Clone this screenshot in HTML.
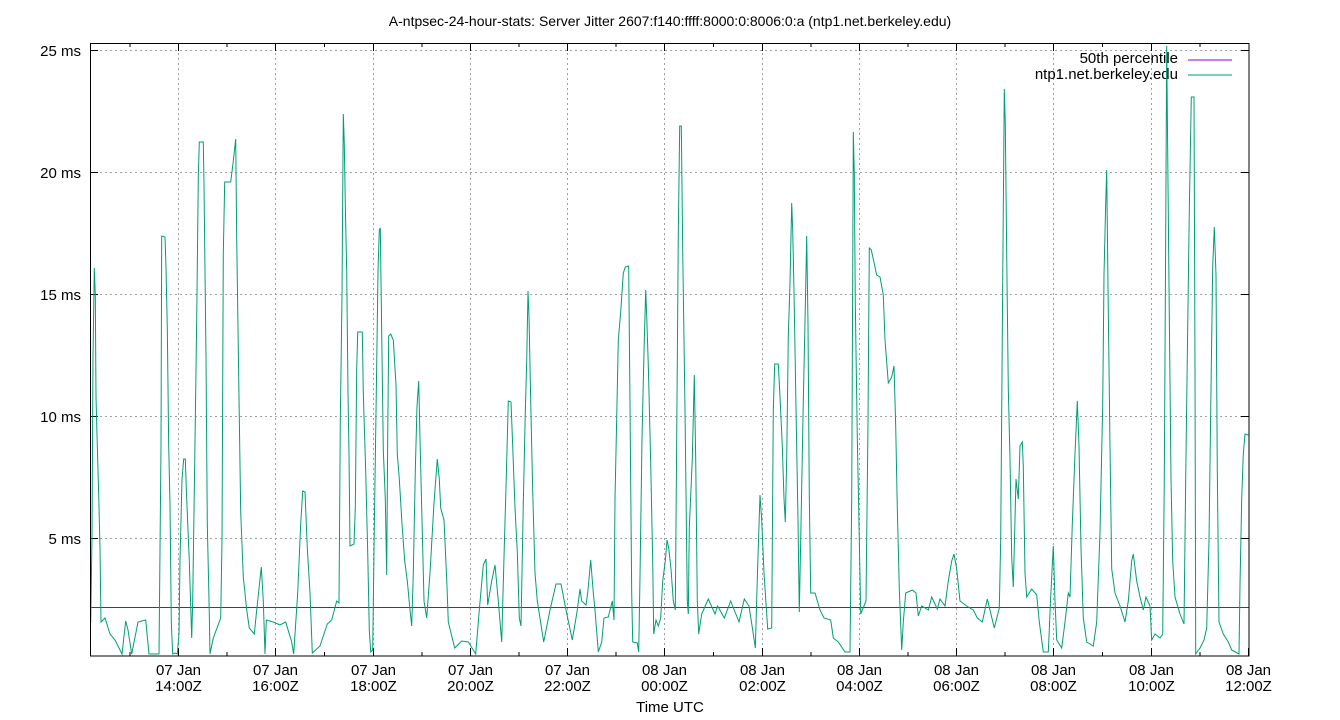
<!DOCTYPE html>
<html><head><meta charset="utf-8"><style>
html,body{margin:0;padding:0;background:#fff;}
svg{display:block;font-family:"Liberation Sans",sans-serif;}
</style></head><body>
<svg width="1340" height="720" viewBox="0 0 1340 720" xmlns="http://www.w3.org/2000/svg">
<rect width="1340" height="720" fill="#fff"/>
<text x="670" y="26" font-size="14" text-anchor="middle" fill="#000">A-ntpsec-24-hour-stats: Server Jitter 2607:f140:ffff:8000:0:8006:0:a (ntp1.net.berkeley.edu)</text>
<g stroke="#a0a0a0" stroke-width="1" stroke-dasharray="2,3" fill="none">
<line x1="90" y1="50.5" x2="1249" y2="50.5"/>
<line x1="90" y1="172.5" x2="1249" y2="172.5"/>
<line x1="90" y1="294.5" x2="1249" y2="294.5"/>
<line x1="90" y1="416.5" x2="1249" y2="416.5"/>
<line x1="90" y1="538.5" x2="1249" y2="538.5"/>
<line x1="178.5" y1="43" x2="178.5" y2="656"/>
<line x1="275.5" y1="43" x2="275.5" y2="656"/>
<line x1="373.5" y1="43" x2="373.5" y2="656"/>
<line x1="470.5" y1="43" x2="470.5" y2="656"/>
<line x1="567.5" y1="43" x2="567.5" y2="656"/>
<line x1="664.5" y1="43" x2="664.5" y2="656"/>
<line x1="762.5" y1="43" x2="762.5" y2="656"/>
<line x1="859.5" y1="43" x2="859.5" y2="656"/>
<line x1="956.5" y1="43" x2="956.5" y2="656"/>
<line x1="1053.5" y1="43" x2="1053.5" y2="656"/>
<line x1="1151.5" y1="43" x2="1151.5" y2="656"/>
</g>
<g stroke="#000" stroke-width="1">
<line x1="90" y1="50.5" x2="98" y2="50.5"/><line x1="1241" y1="50.5" x2="1249" y2="50.5"/>
<line x1="90" y1="172.5" x2="98" y2="172.5"/><line x1="1241" y1="172.5" x2="1249" y2="172.5"/>
<line x1="90" y1="294.5" x2="98" y2="294.5"/><line x1="1241" y1="294.5" x2="1249" y2="294.5"/>
<line x1="90" y1="416.5" x2="98" y2="416.5"/><line x1="1241" y1="416.5" x2="1249" y2="416.5"/>
<line x1="90" y1="538.5" x2="98" y2="538.5"/><line x1="1241" y1="538.5" x2="1249" y2="538.5"/>
</g>
<g stroke="#000" stroke-width="1" id="xt">
<path d="M178.5 656v-8M275.5 656v-8M373.5 656v-8M470.5 656v-8M567.5 656v-8M664.5 656v-8M762.5 656v-8M859.5 656v-8M956.5 656v-8M1053.5 656v-8M1151.5 656v-8M1248.5 656v-8
M130 656v-4M227 656v-4M324.5 656v-4M422 656v-4M519 656v-4M616 656v-4M713.5 656v-4M811 656v-4M908 656v-4M1005 656v-4M1102.5 656v-4M1200 656v-4
M178.5 43v8M275.5 43v8M373.5 43v8M470.5 43v8M567.5 43v8M664.5 43v8M762.5 43v8M859.5 43v8M956.5 43v8M1053.5 43v8M1151.5 43v8
M130 43v4M227 43v4M324.5 43v4M422 43v4M519 43v4M616 43v4M713.5 43v4M811 43v4M908 43v4M1005 43v4M1102.5 43v4M1200 43v4"/>
</g>
<g font-size="15" fill="#000" text-anchor="end">
<text x="81" y="56">25 ms</text><text x="81" y="178">20 ms</text><text x="81" y="300">15 ms</text><text x="81" y="422">10 ms</text><text x="81" y="544">5 ms</text>
</g>
<g font-size="15" fill="#000" text-anchor="middle">
<text x="178.5" y="675">07 Jan</text><text x="178.5" y="691">14:00Z</text>
<text x="275.5" y="675">07 Jan</text><text x="275.5" y="691">16:00Z</text>
<text x="373.5" y="675">07 Jan</text><text x="373.5" y="691">18:00Z</text>
<text x="470.5" y="675">07 Jan</text><text x="470.5" y="691">20:00Z</text>
<text x="567.5" y="675">07 Jan</text><text x="567.5" y="691">22:00Z</text>
<text x="664.5" y="675">08 Jan</text><text x="664.5" y="691">00:00Z</text>
<text x="762.5" y="675">08 Jan</text><text x="762.5" y="691">02:00Z</text>
<text x="859.5" y="675">08 Jan</text><text x="859.5" y="691">04:00Z</text>
<text x="956.5" y="675">08 Jan</text><text x="956.5" y="691">06:00Z</text>
<text x="1053.5" y="675">08 Jan</text><text x="1053.5" y="691">08:00Z</text>
<text x="1151.5" y="675">08 Jan</text><text x="1151.5" y="691">10:00Z</text>
<text x="1248.5" y="675">08 Jan</text><text x="1248.5" y="691">12:00Z</text>
<text x="670" y="712">Time UTC</text>
</g>
<g font-size="15" fill="#000" text-anchor="end">
<text x="1178" y="63">50th percentile</text>
<text x="1178" y="79">ntp1.net.berkeley.edu</text>
</g>
<line x1="1188" y1="60" x2="1232" y2="60" stroke="#9400d3" stroke-width="1"/>
<line x1="1188" y1="75" x2="1232" y2="75" stroke="#009e73" stroke-width="1"/>
<line x1="90" y1="607.5" x2="1249" y2="607.5" stroke="#9400d3" stroke-width="1"/>
<polyline fill="none" stroke="#009e73" stroke-width="1" stroke-linejoin="miter" points="
90.7,623 92,536 93,357 94.3,268 95.3,295 96,397 97.3,446 98.7,495 100,548 101,622 105,618 110,634 115,640 122,654 125.7,621 128,630 131.7,654 138,622 145.7,620 149,654 159,654 161,446 161.7,236 165,237 166,267 167.3,328 168.7,446 170,505 171.3,622 172.7,654 175,653 177.3,654 179,634 180,561 182,479 183.7,459 185.3,459 186.7,499 189.3,561 191.7,638 192.7,601 194.7,463 196.7,320 198.3,177 199.3,142 203.3,142 204,185 206,357 207.3,524 209.3,614 210,654 213.3,638 220.7,618 222,540 223.3,254 224.7,182 230.7,182 233.3,161 235.7,139 236.7,238 238.7,377 240.7,512 243.3,577 246.7,610 249.3,628 254.3,634 256.7,610 261.3,567 263.3,601 265,654 266.3,620 273.3,622 280,625 285.7,622 291.7,642 293.7,654 297.7,593 300.7,524 302.7,491 305,492 307.3,548 310,593 312.3,653 320,646 323.3,636 327.3,624 331.7,620 336.7,601 339,603 340.3,422 342,295 343.3,114 344.3,144 345.3,205 346.7,271 348,393 349,454 350,546 354,544 355.3,508 356.7,369 357.7,332 362.3,332 363.3,393 365.7,471 367.7,552 369.3,630 370.7,652 372.7,650 374.3,528 376.7,365 378,271 379.3,230 380.3,228 381.3,303 383.3,450 385.3,499 386.7,575 387.7,438 388.7,336 390.7,334 393.3,340 396,385 397.3,454 399.3,479 402,524 404.7,561 407.3,581 410,610 411.7,626 413.3,573 415.3,471 417,406 418.7,381 420,438 422,520 424,601 426.7,618 430,573 434,503 437.3,459 439.3,479 440.7,508 444,520 446.7,579 448.3,622 454.7,648 461.7,641 468.3,642 475.7,654 479.3,610 483.3,565 486,559 487.7,605 491.7,581 495,565 498.3,601 501.7,642 504,557 506,487 508.3,401 511,402 512.7,446 515,508 517.3,552 519.3,618 521,626 523.3,503 525.3,412 526.7,361 528,291 529,316 530.7,401 532.7,491 535,573 537.3,601 543.7,642 550,610 556,584 561,584 566,610 572.3,640 577.3,610 580,589 581.7,601 586,605 587.7,593 590.7,560 593.3,593 595,610 598.3,652 601.7,642 604,618 608.3,617 612.3,601 614,620 615,499 616.7,418 618.3,340 620.7,312 623.3,273 625.3,267 628.7,266 630,405 631.7,593 632.7,642 637.3,643 638.7,652 640,577 642,438 644,352 645.7,290 646.7,316 648.3,365 650.7,463 652.7,561 653.7,634 656,620 658.3,626 660.7,618 662.7,581 665.3,561 667,540 668.7,548 671,569 673.3,601 675.3,610 676.7,438 678.3,234 679.7,126 681.3,126 682.7,250 685,410 687.3,601 688.3,614 689.3,528 692.3,459 694.3,375 695.7,459 697.3,601 698.7,634 701.7,614 708.3,599 715,614 717.7,606 724.3,618 730.7,601 739,622 744.3,599 749,606 753.3,634 755.3,648 757.7,565 760,495 761.7,520 764,573 767.7,629 771.7,628 773.3,410 774.7,364 778.3,364 780,397 782.3,446 784,499 785.3,522 786.7,459 788.3,336 790,283 791.7,203 792.7,230 794,291 796,408 798,520 799.3,612 800.7,540 803.3,401 805.3,308 806.7,236 808,324 809.3,497 810.7,593 815,593 820,610 824,618 830.7,620 833.3,638 838.3,642 845,652 850,652 851.7,499 852.7,279 853.3,132 854.3,173 855.3,303 857.3,438 858.7,508 860.7,614 866,601 868,422 869.3,248 871.3,250 876.7,275 880,277 883.3,295 885,340 888.3,383 891.7,377 894,366 895.7,426 897.3,508 899.3,589 901.7,650 903.3,622 905.7,593 912.3,590 916,593 918.3,616 921.7,606 928.3,610 931.7,597 937.3,609 940,599 945,606 948.3,581 951.7,561 954,554 956.7,569 960,601 966.7,606 973.3,610 977.3,618 982.3,622 987.3,599 994.3,628 999.3,608 1000.7,540 1002.7,283 1004.3,89 1005.3,124 1006.7,254 1008.3,389 1010,459 1011.7,557 1013.3,587 1016,479 1018.3,499 1020,446 1022.3,442 1023.3,467 1025,573 1026.7,597 1031.7,589 1036.7,595 1039.3,622 1043.3,652 1048.3,652 1050.7,597 1053.3,546 1055,601 1056.7,640 1061.7,648 1065,622 1068.3,593 1070,597 1072.3,524 1075,454 1077.3,401 1079,446 1081,548 1083.3,618 1086.7,642 1093.3,646 1096.7,622 1100,532 1102.7,405 1104,275 1105.7,203 1106.7,170 1108,287 1110,446 1111.7,569 1115,593 1120,606 1125,622 1128.3,601 1131.7,561 1133.3,554 1136.7,581 1140,597 1143.3,610 1146,597 1150,606 1151.7,640 1155,634 1160,638 1162.7,634 1164.3,479 1165.7,234 1166.7,46 1167.7,152 1169.3,316 1171,479 1172.7,561 1175,597 1180,614 1184,624 1185.7,479 1187.3,357 1189.3,210 1191.3,97 1194,97 1195,369 1195.7,654 1200,648 1204,640 1206.7,628 1209,540 1211,389 1212.7,267 1214.3,227 1216,275 1217.3,471 1219,622 1223.3,634 1228.3,642 1231.7,650 1239,654 1240,585 1241.7,499 1243.3,454 1245,434 1248.3,435"/>
<rect x="90.5" y="43.5" width="1158.5" height="612.5" fill="none" stroke="#000" stroke-width="1"/>
</svg>
</body></html>
